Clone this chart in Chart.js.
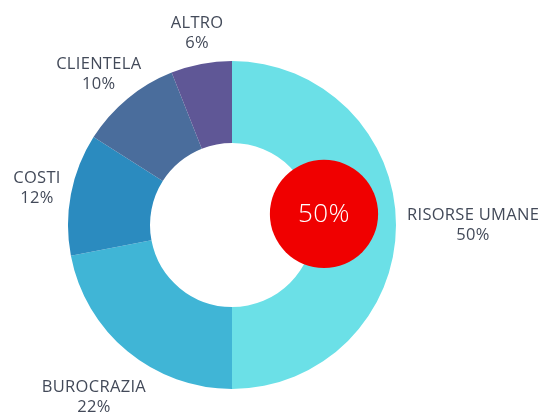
<!DOCTYPE html>
<html>
<head>
<meta charset="utf-8">
<script src="https://cdn.jsdelivr.net/npm/chart.js@4"></script>
<style>
  html, body { margin: 0; padding: 0; background: #ffffff; }
  #wrap { width: 553px; height: 415px; position: relative; }
</style>
</head>
<body>
<div id="wrap"><canvas id="pieChart"></canvas></div>
<script>
const categories = ['RISORSE UMANE', 'BUROCRAZIA', 'COSTI', 'CLIENTELA', 'ALTRO'];
const shares = [50, 22, 12, 10, 6];
const sliceColors = ['#6be0e7', '#40b5d6', '#2b8bbf', '#4a6d9c', '#5f5796'];
const highlightIndex = 0;

const labelFont = '400 16.5px "Open Sans", sans-serif';
const labelColor = '#434a59';

// text next to each slice, pushed out from the ring along the slice middle
const outsideLabels = {
  id: 'outsideLabels',
  afterDraw(chart) {
    const { ctx } = chart;
    const arcs = chart.getDatasetMeta(0).data;
    ctx.save();
    ctx.font = labelFont;
    ctx.letterSpacing = '0.3px';
    ctx.fillStyle = labelColor;
    ctx.textAlign = 'center';
    ctx.textBaseline = 'middle';
    arcs.forEach((arc, i) => {
      const mid = (arc.startAngle + arc.endAngle) / 2;
      const cos = Math.cos(mid);
      const sin = Math.sin(mid);
      const lines = [categories[i], `${shares[i]}%`];
      const width = Math.max(...lines.map(line => ctx.measureText(line).width));
      const lineHeight = 20;
      const height = lineHeight * 2;
      const gap = arc.outerRadius + 11;
      const cx = arc.x + cos * gap + Math.sign(cos) * Math.pow(Math.abs(cos), 1.5) * width / 2;
      const cy = arc.y + sin * (gap + height / 2) + Math.max(0, sin) * 28;
      lines.forEach((line, k) => {
        ctx.fillText(line, cx, cy + (k - 0.5) * lineHeight);
      });
    });
    ctx.restore();
  },
};

// red badge sitting on the inner edge of the largest slice
const highlightBadge = {
  id: 'highlightBadge',
  afterDatasetsDraw(chart) {
    const { ctx } = chart;
    const arc = chart.getDatasetMeta(0).data[highlightIndex];
    const mid = (arc.startAngle + arc.endAngle) / 2 - 0.12;
    const dist = arc.outerRadius * 0.565;
    const r = arc.outerRadius * 0.33;
    const x = arc.x + Math.cos(mid) * dist;
    const y = arc.y + Math.sin(mid) * dist;
    ctx.save();
    ctx.beginPath();
    ctx.arc(x, y, r, 0, Math.PI * 2);
    ctx.fillStyle = '#f00000';
    ctx.fill();
    ctx.font = '300 26px "Open Sans", sans-serif';
    ctx.letterSpacing = '0.5px';
    ctx.fillStyle = '#ffffff';
    ctx.textAlign = 'center';
    ctx.textBaseline = 'middle';
    ctx.fillText(`${shares[highlightIndex]}%`, x, y + 1);
    ctx.restore();
  },
};

new Chart(document.getElementById('pieChart').getContext('2d'), {
  type: 'doughnut',
  data: {
    labels: categories,
    datasets: [{
      data: shares,
      backgroundColor: sliceColors,
      borderWidth: 0,
      hoverOffset: 0,
    }],
  },
  options: {
    responsive: true,
    maintainAspectRatio: false,
    animation: false,
    cutout: '50%',
    layout: { padding: { left: 68, right: 157, top: 61, bottom: 26 } },
    plugins: {
      legend: { display: false },
      tooltip: { enabled: false },
    },
  },
  plugins: [highlightBadge, outsideLabels],
});
</script>
</body>
</html>
